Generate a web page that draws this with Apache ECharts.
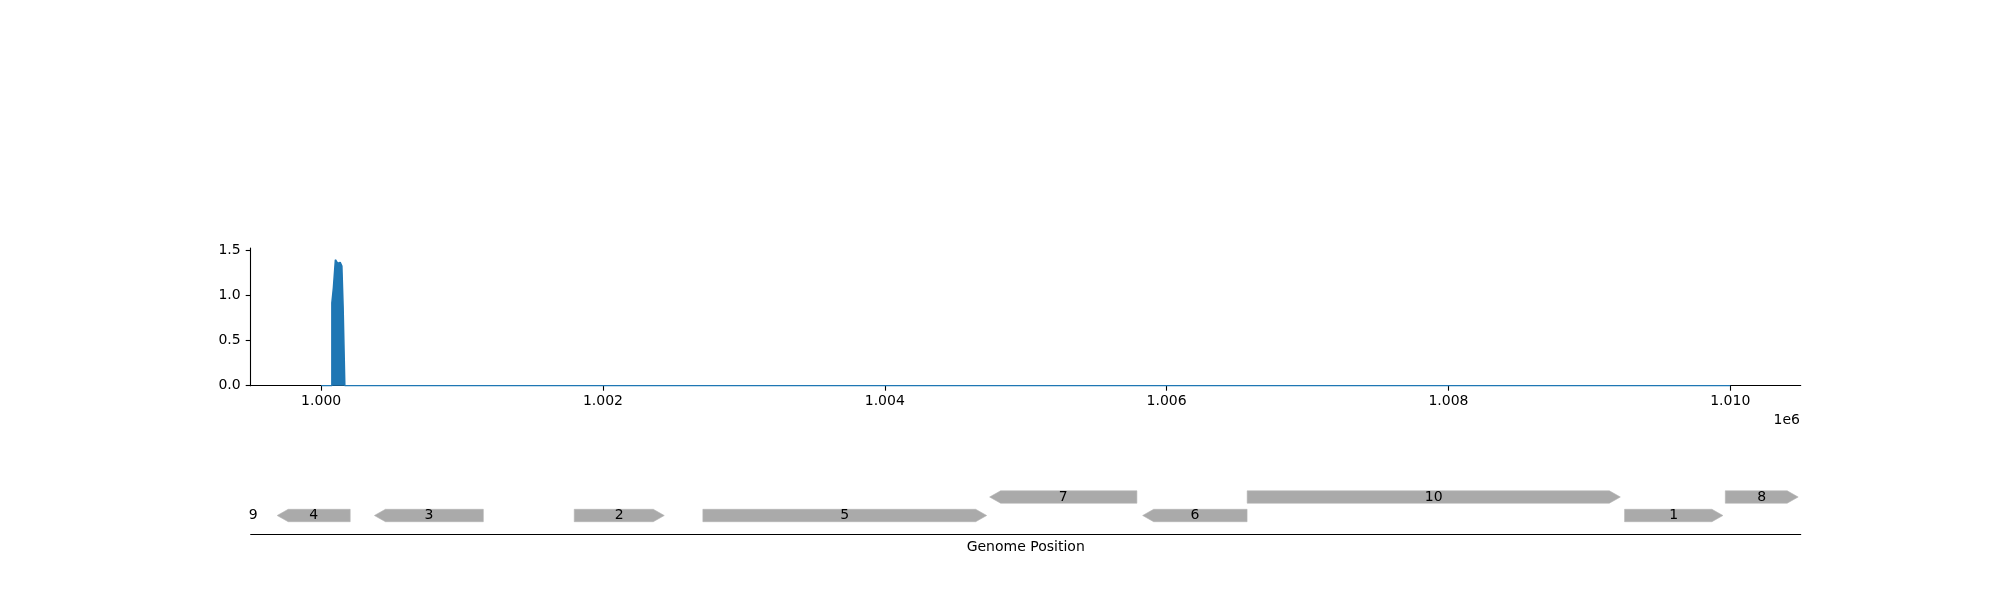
<!DOCTYPE html>
<html>
<head>
<meta charset="utf-8">
<script src="https://cdn.jsdelivr.net/npm/echarts@6/dist/echarts.min.js"></script>
<style>html,body{margin:0;padding:0;background:#fff}#c{width:2000px;height:600px}</style>
</head>
<body>
<div id="c"></div>
<script>
// Coverage (step values: value holds from position until next position)
const covPositions = [1000000, 1000076, 1000087, 1000101, 1000107, 1000113, 1000118, 1000123, 1000135, 1000147, 1000156, 1000168, 1010000];
const covValues    = [0,       0.92,    1.09,    1.40,    1.38,    1.39,    1.36,    1.37,    1.35,    1.33,    0.87,    0,       0];

// Genes
const geneNames   = ['4', '3', '2', '5', '7', '6', '10', '1', '8', '9'];
const geneStarts  = [999688, 1000378, 1001796, 1002709, 1004744, 1005830, 1006572, 1009250, 1009965, 999518];
const geneEnds    = [1000206, 1001151, 1002435, 1004723, 1005789, 1006571, 1009220, 1009948, 1010482, 999518];
const geneStrands = [-1, -1, 1, 1, -1, -1, 1, 1, 1, 0];
const geneLevels  = [0, 0, 0, 0, 1, 0, 1, 0, 1, 0];

// Tick labels
const xTicks = [1000000, 1002000, 1004000, 1006000, 1008000, 1010000];
const yTicks = [0, 0.5, 1.0, 1.5];

const FONT = 'DejaVu Sans';
const covData = covPositions.map((p, i) => [p, covValues[i]]);
const geneData = geneNames.map((n, i) => [geneStarts[i], geneEnds[i], geneLevels[i], geneStrands[i], n]);

const chart = echarts.init(document.getElementById('c'), null, {renderer: 'canvas'});
chart.setOption({
  animation: false,
  backgroundColor: '#fff',
  textStyle: {fontFamily: FONT},
  grid: [
    {left: 250.7, right: 199.3, top: 248, bottom: 214.3},
    {left: 250.7, right: 199.3, top: 460, bottom: 66}
  ],
  xAxis: [
    {
      type: 'value', gridIndex: 0, min: 999500, max: 1010500,
      axisLine: {show: true, onZero: false, lineStyle: {color: '#000', width: 1.1}},
      axisTick: {show: true, length: 5, customValues: xTicks, lineStyle: {color: '#000', width: 1.1}},
      axisLabel: {customValues: xTicks, margin: 9, color: '#000', fontSize: 14, fontFamily: FONT,
        formatter: v => (v / 1e6).toFixed(3)},
      splitLine: {show: false}
    },
    {
      type: 'value', gridIndex: 1, min: 999500, max: 1010500,
      axisLine: {show: true, onZero: false, lineStyle: {color: '#000', width: 1.1}},
      axisTick: {show: false}, axisLabel: {show: false}, splitLine: {show: false},
      name: 'Genome Position', nameLocation: 'middle', nameGap: 6,
      nameTextStyle: {color: '#000', fontSize: 14, fontFamily: FONT, verticalAlign: 'top'}
    }
  ],
  yAxis: [
    {
      type: 'value', gridIndex: 0, min: 0, max: 1.53,
      axisLine: {show: true, lineStyle: {color: '#000', width: 1.1}},
      axisTick: {show: true, length: 5, customValues: yTicks, lineStyle: {color: '#000', width: 1.1}},
      axisLabel: {customValues: yTicks, margin: 10, color: '#000', fontSize: 14, fontFamily: FONT,
        formatter: v => v.toFixed(1)},
      splitLine: {show: false}
    },
    {
      type: 'value', gridIndex: 1, min: -1, max: 3,
      axisLine: {show: false}, axisTick: {show: false}, axisLabel: {show: false}, splitLine: {show: false}
    }
  ],
  graphic: [
    {type: 'text', x: 1800, y: 420, style: {text: '1e6', align: 'right', verticalAlign: 'middle',
      fill: '#000', fontSize: 14, fontFamily: FONT}}
  ],
  series: [
    {
      type: 'line', xAxisIndex: 0, yAxisIndex: 0, data: covData, step: 'end',
      showSymbol: false, symbol: 'none',
      lineStyle: {color: '#1f77b4', width: 1.5},
      areaStyle: {color: '#1f77b4', opacity: 1},
      z: 3
    },
    {
      type: 'custom', xAxisIndex: 1, yAxisIndex: 1, data: geneData,
      renderItem: function (params, api) {
        const s = api.value(0), e = api.value(1), lvl = api.value(2), strand = api.value(3);
        const label = geneNames[params.dataIndex];
        const p0 = api.coord([s, lvl]);
        const p1 = api.coord([e, lvl]);
        const cy = p0[1];
        const h = 12.4, hh = h / 2;
        const children = [];
        const len = p1[0] - p0[0];
        if (len > 0) {
          const head = Math.min(11, len);
          let pts;
          if (strand > 0) {
            pts = [[p0[0], cy - hh], [p1[0] - head, cy - hh], [p1[0], cy], [p1[0] - head, cy + hh], [p0[0], cy + hh]];
          } else if (strand < 0) {
            pts = [[p0[0] + head, cy - hh], [p1[0], cy - hh], [p1[0], cy + hh], [p0[0] + head, cy + hh], [p0[0], cy]];
          } else {
            pts = [[p0[0], cy - hh], [p1[0], cy - hh], [p1[0], cy + hh], [p0[0], cy + hh]];
          }
          children.push({type: 'polygon', shape: {points: pts}, style: {fill: '#aaaaaa', stroke: '#b4b4b4', lineWidth: 0.6}});
        }
        children.push({type: 'text', x: (p0[0] + p1[0]) / 2, y: cy,
          style: {text: label, align: 'center', verticalAlign: 'middle', fill: '#000', fontSize: 14, fontFamily: FONT}});
        return {type: 'group', children: children};
      },
      z: 3
    }
  ]
});
</script>
</body>
</html>
